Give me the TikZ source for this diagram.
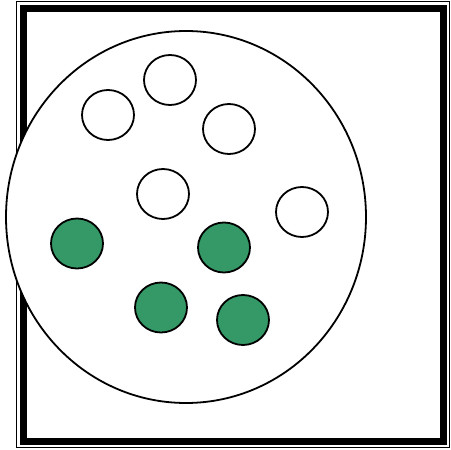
\documentclass[tikz,border=0pt]{standalone}
\usetikzlibrary{shapes.geometric}
\definecolor{dotgreen}{RGB}{52,153,103}
\begin{document}
\begin{tikzpicture}[x=1pt,y=-1pt,
  ball/.style={draw=black,line width=1.8pt,ellipse,minimum width=52pt,minimum height=50pt,inner sep=0pt},
  whiteball/.style={ball,fill=white},
  greenball/.style={ball,fill=dotgreen}]
\useasboundingbox (0,0) rectangle (451,450);
\fill[white] (0,0) rectangle (451,450);
% frame
\draw[line width=1pt] (16.5,1.5) rectangle (449.5,447.5);
\draw[line width=7pt] (23.5,8.5) rectangle (443.5,441.5);
% big circle
\node[draw=black,line width=1.8pt,ellipse,minimum width=360pt,minimum height=372pt,inner sep=0pt,fill=white] (big) at (186,217) {};
% white balls
\node[whiteball] (w1) at (170,80) {};
\node[whiteball] (w2) at (108,115) {};
\node[whiteball] (w3) at (229,129) {};
\node[whiteball] (w4) at (163,194) {};
\node[whiteball] (w5) at (302,212) {};
% green balls
\node[greenball] (g1) at (77,243.5) {};
\node[greenball] (g2) at (224,247.5) {};
\node[greenball] (g3) at (161,307.5) {};
\node[greenball] (g4) at (243,320) {};
\end{tikzpicture}
\end{document}
